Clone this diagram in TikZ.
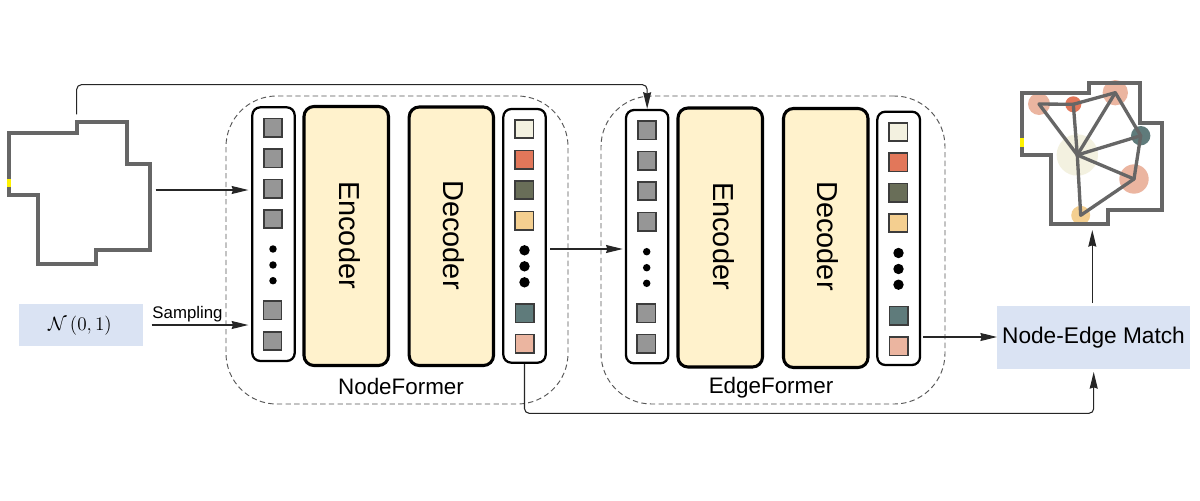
\documentclass[tikz,border=0pt]{standalone}
\usepackage{fontspec}
\setmainfont{Liberation Sans}
\usetikzlibrary{arrows.meta,fit}
\definecolor{sqgray}{HTML}{969696}
\definecolor{sqedge}{HTML}{3C3C3C}
\definecolor{cream}{HTML}{F3F1E0}
\definecolor{redc}{HTML}{E2775A}
\definecolor{olive}{HTML}{696E58}
\definecolor{sand}{HTML}{F4CF90}
\definecolor{teal2}{HTML}{5F7B7B}
\definecolor{salmon}{HTML}{EBB5A0}
\definecolor{blockc}{HTML}{FFF2CC}
\definecolor{bluec}{HTML}{DAE3F3}
\definecolor{wallc}{HTML}{666666}
\definecolor{dashc}{HTML}{555555}
\definecolor{arrowc}{HTML}{262626}
\newcommand{\fs}[1]{\fontsize{#1}{#1}\selectfont}
\tikzset{
  x=0.75pt,y=-0.75pt,
  listbox/.style={draw=black,line width=1.7pt,rounded corners=6pt,fill=white,inner sep=0pt},
  block/.style={draw=black,line width=2.3pt,rounded corners=7.5pt,fill=blockc,inner sep=0pt},
  former/.style={draw=dashc,line width=0.7pt,dash pattern=on 4pt off 2.5pt,rounded corners=38pt,inner sep=0pt},
  flat/.style={fill=bluec,inner sep=0pt},
  cell/.style={draw=sqedge,line width=1.2pt,minimum size=13.6pt,inner sep=0pt},
  gcell/.style={cell,fill=sqgray},
  sdot/.style={circle,fill=black,minimum size=5.6pt,inner sep=0pt},
  bdot/.style={circle,fill=black,minimum size=7.8pt,inner sep=0pt},
  blocktext/.style={rotate=-90,font=\fs{21.7},inner sep=0pt},
  capt/.style={font=\fs{16.8},inner sep=0pt,anchor=base},
  wall/.style={draw=wallc,line width=2.8pt,line join=miter},
  door/.style={draw=yellow,line width=2.9pt},
  graphedge/.style={draw=wallc,line width=2.5pt},
  room/.style={circle,inner sep=0pt},
  conn/.style={draw=arrowc,line width=0.8pt,-{Stealth[length=12.5pt,width=6pt,inset=1pt]}},
  bentconn/.style={conn,rounded corners=3.5pt}
}
\begin{document}
\begin{tikzpicture}
\useasboundingbox (0,0) rectangle (1200,500);
\fill[white] (0,0) rectangle (1200,500);

% dashed containers
\node[former,fit={(226,96)(568,404)}] (nf) {};
\node[former,fit={(601,96)(945,404)}] (ef) {};
\node[capt] (nfl) at (401,394) {NodeFormer};
\node[capt] (efl) at (771,393) {EdgeFormer};

% input floor plan
\draw[wall] (9,133)--(77,133)--(77,122)--(127,122)--(127,164)--(150,164)--(150,250)--(96,250)--(96,264)--(38,264)--(38,195)--(9,195)--cycle;
\draw[door] (9,179)--(9,187);

% noise box
\node[flat,fit={(18.7,304)(143,345.5)}] (noise) {};
\node[inner sep=0pt,font=\fs{15}] (noisel) at (80,326) {$\mathcal{N}\,(0,1)$};
\node[inner sep=0pt,font=\fs{12.6}] (samp) at (187.5,314) {Sampling};

% column 1
\node[listbox,fit={(252.3,107.3)(294.7,361)}] (c1) {};
\foreach \n/\xx/\yy in {a/273/127.7,b/273/158.3,c/273/188.7,d/273/219,e/272.5/310.3,f/272.5/341}
  \node[gcell] (c1\n) at (\xx,\yy) {};
\foreach \n/\yy in {a/249,b/265,c/280.7}
  \node[sdot] (c1d\n) at (273,\yy) {};

% blocks 1
\node[block,fit={(304,106.5)(388.5,365.5)}] (enc1) {};
\node[block,fit={(409.2,107)(493.5,365.5)}] (dec1) {};
\node[blocktext] (enc1l) at (350,235) {Encoder};
\node[blocktext] (dec1l) at (453.5,235) {Decoder};

% column 2
\node[listbox,fit={(503.3,109)(545.7,362.7)}] (c2) {};
\node[cell,fill=cream]  (c2a) at (524.3,129) {};
\node[cell,fill=redc]   (c2b) at (524.3,159.7) {};
\node[cell,fill=olive]  (c2c) at (524.3,190) {};
\node[cell,fill=sand]   (c2d) at (524.3,220.7) {};
\node[cell,fill=teal2]  (c2e) at (524.7,313.3) {};
\node[cell,fill=salmon] (c2f) at (524.7,343.7) {};
\foreach \n/\yy in {a/250.3,b/266.3,c/282.3}
  \node[bdot] (c2d\n) at (524.5,\yy) {};

% column 3
\node[listbox,fit={(626,110)(668.3,363.3)}] (c3) {};
\foreach \n/\xx/\yy in {a/647/130.3,b/647/160.7,c/647/191,d/647/221.7,e/646.3/313.3,f/646.3/343.7}
  \node[gcell] (c3\n) at (\xx,\yy) {};
\foreach \n/\yy in {a/251.7,b/267.7,c/283.3}
  \node[sdot] (c3d\n) at (646.7,\yy) {};

% blocks 2
\node[block,fit={(678,108)(762.5,367)}] (enc2) {};
\node[block,fit={(783.5,108.5)(868,367.5)}] (dec2) {};
\node[blocktext] (enc2l) at (724,236) {Encoder};
\node[blocktext] (dec2l) at (828,236) {Decoder};

% column 4
\node[listbox,fit={(877.3,111.7)(920,365)}] (c4) {};
\node[cell,fill=cream]  (c4a) at (898.3,132) {};
\node[cell,fill=redc]   (c4b) at (898.3,162.3) {};
\node[cell,fill=olive]  (c4c) at (898.3,192.7) {};
\node[cell,fill=sand]   (c4d) at (898.3,223) {};
\node[cell,fill=teal2]  (c4e) at (898.7,315.7) {};
\node[cell,fill=salmon] (c4f) at (898.7,346.3) {};
\foreach \n/\yy in {a/253,b/269,c/284.7}
  \node[bdot] (c4d\n) at (898.5,\yy) {};

% match box
\node[flat,fit={(997.3,305.7)(1189.7,369.3)}] (match) {};
\node[inner sep=0pt,font=\fs{17}] (matchl) at (1093.5,338) {Node-Edge Match};

% output floor plan
\node[room,fill=salmon,minimum size=16.5pt]  (ra) at (1039,104) {};
\node[room,fill=redc,minimum size=12pt]      (rb) at (1073.3,104.3) {};
\node[room,fill=salmon,minimum size=19pt]    (rc) at (1115.3,92.7) {};
\node[room,fill=teal2,minimum size=14.5pt]   (rd) at (1140.7,135.7) {};
\node[room,fill=cream,minimum size=31pt]     (re) at (1077.3,155) {};
\node[room,fill=salmon,minimum size=22pt]    (rf) at (1134,179) {};
\node[room,fill=sand,minimum size=14.2pt]    (rg) at (1080.7,215.3) {};
\draw[wall] (1021.7,92.7)--(1089,92.7)--(1089,82.7)--(1140,82.7)--(1140,123.3)--(1162.3,123.3)--(1162.3,210)--(1107.7,210)--(1107.7,223.7)--(1051,223.7)--(1051,155)--(1021.7,155)--cycle;
\draw[door] (1021.7,138)--(1021.7,147);
\foreach \p/\q in {ra/rb,rb/rc,rc/rd,rd/rf,rf/rg,rg/re,re/ra,re/rb,re/rc,re/rd,re/rf}
  \draw[graphedge,line cap=round] (\p.center)--(\q.center);

% connector ends
\coordinate (fpTop) at (76.7,114.3);
\coordinate (fpOut) at (155.7,190);
\coordinate (c1in) at (248.3,190);
\coordinate (sampOut) at (151.7,325);
\coordinate (c1inb) at (248.3,325);
\coordinate (c2out) at (550,249);
\coordinate (c3in) at (622.7,249);
\coordinate (c4out) at (923,337);
\coordinate (outTip) at (1092.3,230);
\coordinate (outFoot) at (1092.3,303);
\coordinate (topRun) at (76.7,84.7);
\coordinate (busRun) at (1093.7,413.3);
\coordinate (busTip) at (1093.7,372);

\draw[conn] (fpOut)--(c1in);
\draw[conn] (sampOut)--(c1inb);
\draw[conn] (c2out)--(c3in);
\draw[conn] (c4out)--(c4out-|match.west);
\draw[conn] (outFoot)--(outTip);
\draw[bentconn] (fpTop)--(topRun)--(topRun-|c3.north)--(c3.north);
\draw[bentconn] (c2.south)--(c2.south|-busRun)--(busRun)--(busTip);
\end{tikzpicture}
\end{document}
